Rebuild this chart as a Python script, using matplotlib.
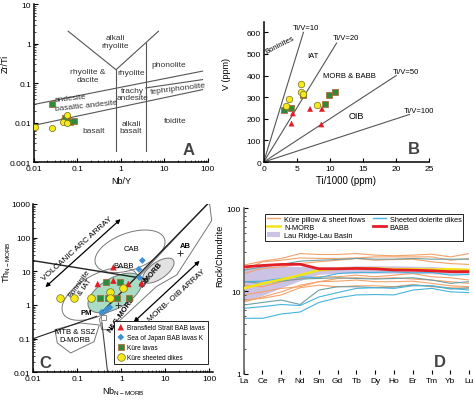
import numpy as np
import matplotlib
matplotlib.use('Agg')
import matplotlib.pyplot as plt
from matplotlib.patches import Polygon, Patch, Rectangle
from matplotlib.lines import Line2D
from matplotlib.ticker import FixedLocator, FixedFormatter, LogLocator, NullFormatter

plt.rcParams['font.family'] = ['Liberation Sans', 'DejaVu Sans']
plt.rcParams['font.size'] = 6

YEL = '#f7e81a'
GRN = '#2f8a3c'
RED = '#e31e26'
BLU = '#3d8fd6'
ORA = '#f4a26a'
CYA = '#45b4de'
GRG = '#6f9fa3'

# ---------------- Panel A data (Nb/Y vs Zr/Ti)
a_dike_x = [0.0105, 0.026, 0.056, 0.047, 0.058]
a_dike_y = [0.0075, 0.0073, 0.0152, 0.0103, 0.0099]
a_lava_x = [0.026, 0.049, 0.058, 0.069, 0.082, 0.052]
a_lava_y = [0.030, 0.0108, 0.0125, 0.0103, 0.0111, 0.0130]

# ---------------- Panel B data (Ti/1000 vs V)
b_dike_x = [3.3, 3.8, 5.6, 5.6, 5.9, 8.0]
b_dike_y = [257, 292, 362, 323, 314, 262]
b_lava_x = [3.1, 4.1, 5.9, 9.3, 9.8, 10.7]
b_lava_y = [242, 249, 308, 269, 312, 323]
b_bab_x = [4.4, 4.2, 7.0, 8.8, 8.7]
b_bab_y = [225, 178, 246, 246, 174]
b_ratios = [10, 20, 50, 100]
b_ratio_xend = [6.0, 11.0, 20.0, 22.0]

# ---------------- Panel C data (Nb N-MORB vs Th N-MORB)
c_bab_x = [0.29, 0.66, 0.66, 1.44, 2.9]
c_bab_y = [4.2, 13.2, 5.3, 4.2, 4.4]
c_jap_x = [3.0, 2.5, 2.6, 0.36, 0.46, 0.55]
c_jap_y = [21.0, 11.5, 6.5, 0.61, 0.72, 0.85]
c_lava_x = [0.45, 0.93, 0.33, 0.51, 0.78, 1.5]
c_lava_y = [4.9, 4.7, 1.6, 1.6, 1.6, 1.6]
c_dike_x = [0.04, 0.083, 0.2, 0.55, 0.55, 1.1]
c_dike_y = [1.6, 1.6, 1.6, 2.4, 1.6, 3.2]
c_ref_x = [21.5, 3.5, 0.85]
c_ref_y = [36.0, 5.3, 1.0]

# ---------------- Panel D data (REE / chondrite)
ree = ['La', 'Ce', 'Pr', 'Nd', 'Sm', 'Gd', 'Tb', 'Dy', 'Ho', 'Er', 'Tm', 'Yb', 'Lu']
kure_flows = [
    [20.6, 23.0, 24.8, 28.4, 27.7, 27.7, 28.4, 27.2, 26.7, 27.2, 27.9, 25.9, 28.4],
    [17.9, 22.6, 23.6, 25.2, 24.8, 24.8, 25.2, 25.9, 25.9, 25.9, 25.9, 23.6, 24.8],
    [16.3, 18.8, 19.6, 21.5, 22.6, 23.6, 24.8, 23.6, 24.1, 24.3, 22.6, 21.5, 21.0],
    [11.8, 11.3, 13.0, 14.2, 14.9, 14.9, 15.6, 14.9, 15.6, 16.3, 14.9, 14.5, 13.6],
    [9.0, 9.8, 10.8, 11.3, 13.0, 13.2, 13.6, 13.0, 13.0, 13.2, 12.4, 11.6, 11.3],
    [7.8, 8.2, 9.0, 11.0, 11.8, 11.3, 11.6, 11.6, 11.3, 12.0, 11.3, 11.0, 10.8],
    [7.4, 8.5, 9.8, 11.8, 13.0, 14.2, 14.5, 14.2, 14.5, 14.0, 13.6, 13.0, 12.4],
]
dolerite = [
    [17.9, 19.6, 21.0, 23.0, 23.6, 24.1, 24.8, 24.3, 24.3, 24.8, 24.3, 24.3, 24.3],
    [13.0, 13.2, 14.2, 14.9, 14.5, 16.3, 16.8, 16.8, 17.1, 16.6, 16.8, 15.6, 15.9],
    [13.0, 12.4, 13.2, 14.0, 14.2, 14.5, 14.2, 14.0, 14.2, 14.5, 13.6, 12.4, 13.0],
    [6.8, 7.3, 7.8, 6.9, 10.3, 11.3, 11.3, 11.0, 11.2, 11.8, 11.6, 10.6, 11.0],
    [6.2, 6.5, 6.9, 6.7, 8.5, 9.6, 10.8, 11.0, 10.8, 11.6, 11.6, 10.8, 10.3],
    [4.7, 4.7, 5.3, 5.6, 7.3, 8.3, 9.0, 9.1, 9.0, 10.3, 10.8, 9.8, 9.6],
]
dolerite_col = [GRG, CYA, GRG, GRG, CYA, CYA]
nmorb = [10.8, 12.3, 13.8, 15.6, 17.9, 18.6, 18.8, 18.8, 18.4, 18.4, 18.2, 18.4, 18.0]
babb = [19.6, 20.4, 21.0, 21.1, 18.6, 18.6, 18.8, 18.6, 18.0, 17.9, 17.6, 17.2, 17.2]
lau_hi = [18.8, 19.8, 20.2, 19.8, 19.6, 19.8, 20.2, 20.2, 20.2, 20.0, 19.8, 19.2, 18.8]
lau_lo = [7.4, 8.9, 11.0, 13.4, 16.0, 16.3, 16.5, 16.5, 16.5, 16.3, 16.2, 16.0, 15.8]

fig = plt.figure(figsize=(4.74, 4.02), dpi=100)
axA = fig.add_axes([0.0717, 0.5945, 0.367, 0.393])
axB = fig.add_axes([0.5563, 0.5945, 0.3494, 0.3495])
axC = fig.add_axes([0.0703, 0.0714, 0.3787, 0.4187])
axD = fig.add_axes([0.5141, 0.0672, 0.4759, 0.4122])


def frame(ax):
    for s in ['top', 'right']:
        ax.spines[s].set_visible(False)
    for s in ['left', 'bottom']:
        ax.spines[s].set_linewidth(1.1)
    ax.tick_params(direction='in', length=3, width=0.8, labelsize=6, pad=2)
    ax.tick_params(which='minor', direction='in', length=1.5, width=0.5)


def logticks(ax, xt, yt):
    ax.set_xscale('log')
    ax.set_yscale('log')
    ax.xaxis.set_major_locator(FixedLocator(xt))
    ax.xaxis.set_major_formatter(FixedFormatter(['%g' % v for v in xt]))
    ax.yaxis.set_major_locator(FixedLocator(yt))
    ax.yaxis.set_major_formatter(FixedFormatter(['%g' % v for v in yt]))
    for a in (ax.xaxis, ax.yaxis):
        a.set_minor_locator(LogLocator(base=10, subs=np.arange(2, 10)))
        a.set_minor_formatter(NullFormatter())


# ================= A
ln = dict(color='#555555', lw=0.8)
axA.plot([0.061, 0.77, 7.3], [2.05, 0.217, 2.05], **ln)
axA.plot([0.77, 0.77], [0.217, 0.0019], **ln)
axA.plot([3.7, 3.7], [1.06, 0.0019], **ln)
axA.plot([0.0105, 75], [0.029, 0.20], **ln)
axA.plot([0.0105, 75], [0.0086, 0.068], **ln)
axA.plot([3.7, 75], [0.075, 0.122], **ln)
axA.scatter(a_lava_x, a_lava_y, marker='s', s=14, c=GRN, edgecolors='#b06030', lw=0.5, zorder=5)
axA.scatter(a_dike_x, a_dike_y, marker='o', s=20, c=YEL, edgecolors='#707020', lw=0.5, zorder=6)
labA = [('alkali\nrhyolite', 0.74, 1.12, 0), ('rhyolite &\ndacite', 0.17, 0.156, 0),
        ('rhyolite', 1.75, 0.18, 0), ('phonolite', 12.3, 0.30, 0),
        ('trachy\nandesite', 1.8, 0.052, 0), ('tephriphonolite', 21, 0.075, 7),
        ('basaltic andesite', 0.16, 0.027, 6), ('basalt', 0.23, 0.0064, 0),
        ('alkali\nbasalt', 1.7, 0.0078, 0), ('foidite', 17.4, 0.0115, 0)]
for t, x, y, r in labA:
    axA.text(x, y, t, ha='center', va='center', fontsize=6, rotation=r, color='#333333',
             linespacing=1.1)
axA.text(0.0285, 0.043, 'andesite', ha='left', va='center', fontsize=6, rotation=6, color='#333333')
axA.text(35, 0.0021, 'A', fontsize=12, fontweight='bold', color='#444444', ha='center', va='center')
logticks(axA, [0.01, 0.1, 1, 10, 100], [0.001, 0.01, 0.1, 1, 10])
axA.set_xlim(0.01, 100)
axA.set_ylim(0.001, 10)
axA.set_xlabel('Nb/Y', fontsize=6.5, labelpad=3)
axA.set_ylabel('Zr/Ti', fontsize=6.5)
axA.yaxis.set_label_coords(-0.14, 0.63)
frame(axA)

# ================= B
for r, xe in zip(b_ratios, b_ratio_xend):
    axB.plot([0, xe], [0, xe * 1000 / r], color='#555555', lw=0.8)
axB.text(6.4, 622, 'Ti/V=10', fontsize=5.5, ha='center', va='center')
axB.text(12.4, 575, 'Ti/V=20', fontsize=5.5, ha='center', va='center')
axB.text(21.4, 420, 'Ti/V=50', fontsize=5.5, ha='center', va='center')
axB.text(23.4, 240, 'Ti/V=100', fontsize=5.5, ha='center', va='center')
axB.text(2.5, 546, 'Boninites', fontsize=5.5, rotation=27, ha='center', va='center')
axB.text(7.4, 495, 'IAT', fontsize=5.5, ha='center', va='center')
axB.text(13.0, 398, 'MORB & BABB', fontsize=5.5, ha='center', va='center')
axB.text(14.0, 214, 'OIB', fontsize=6.5, ha='center', va='center')
axB.text(22.6, 62, 'B', fontsize=12, fontweight='bold', color='#444444', ha='center', va='center')
axB.scatter(b_bab_x, b_bab_y, marker='^', s=18, c=RED, edgecolors='none', zorder=5)
axB.scatter(b_lava_x, b_lava_y, marker='s', s=14, c=GRN, edgecolors='#b06030', lw=0.5, zorder=5)
axB.scatter(b_dike_x, b_dike_y, marker='o', s=22, c=YEL, edgecolors='#707020', lw=0.5, zorder=6)
axB.set_xlim(0, 25)
axB.set_ylim(0, 650)
axB.set_xticks([0, 5, 10, 15, 20, 25])
axB.set_yticks([0, 100, 200, 300, 400, 500, 600])
axB.set_xlabel('Ti/1000 (ppm)', fontsize=7, labelpad=2)
axB.set_ylabel('V (ppm)', fontsize=6.5)
axB.yaxis.set_label_coords(-0.2, 0.63)
frame(axB)

# ================= C
def ell(c, u, v, n=120):
    t = np.linspace(0, 2 * np.pi, n)
    lx = c[0] + u[0] * np.cos(t) + v[0] * np.sin(t)
    ly = c[1] + u[1] * np.cos(t) + v[1] * np.sin(t)
    return np.column_stack([10 ** lx, 10 ** ly])


def lpoly(pts):
    return np.array([[10 ** a, 10 ** b] for a, b in pts])


morb_oib = [(2.0, 3.07), (2.053, 2.505), (1.258, 0.891), (0.803, 0.554), (-0.258, -0.733),
            (-0.447, -0.733), (-0.5, -0.416)]
mtb = [(-1.508, -0.733), (-1.455, -1.129), (-1.152, -1.426), (-0.621, -1.089), (-0.5, -0.594),
       (-0.939, -0.535)]
edge = '#777777'
axC.add_patch(Polygon(lpoly(morb_oib), closed=True, fill=False, ec=edge, lw=0.7))
axC.add_patch(Polygon(ell((0.197, 1.594), (0.783, 0.372), (-0.142, 0.512)), fill=False, ec=edge, lw=0.7))
axC.add_patch(Polygon(ell((-0.485, 0.327), (0.836, 0.581), (-0.213, 0.525)), fill=False, ec=edge, lw=0.7))
axC.add_patch(Polygon(ell((0.841, 1.02), (0.341, 0.312), (-0.108, 0.203)), fc='#e2e2e2', ec=edge, lw=0.7))
axC.add_patch(Polygon(ell((-0.144, 0.356), (0.591, 0.446), (-0.170, 0.386)), fc='#a8dcc4', ec=edge, lw=0.7))
axC.add_patch(Polygon(lpoly(mtb), closed=True, fill=False, ec=edge, lw=0.7))
axC.plot([0.01, 3.8], [20.7, 5.9], color='#222222', lw=1.0)
axC.plot([0.01, 0.275], [0.1, 0.46], color='#222222', lw=0.8)
axC.plot([0.36, 0.49], [0.31, 0.0095], color='#444444', lw=0.8)
axC.plot([0.33, 100], [0.54, 1120], color='#222222', lw=1.0)
axC.add_patch(Rectangle((0.34, 0.36), 0.1, 0.16, fc='white', ec=edge, lw=0.6, zorder=3))
arr = dict(arrowstyle='<|-|>', color='black', lw=0.9, mutation_scale=6)
axC.annotate('', xy=(10 ** 0.03, 10 ** 2.604), xytext=(10 ** -1.773, 10 ** 0.475), arrowprops=arr)
axC.annotate('', xy=(10 ** 1.826, 10 ** 1.366), xytext=(10 ** 0.235, 10 ** -0.564), arrowprops=arr)
axC.text(10 ** -1.0, 10 ** 1.70, 'VOLCANIC ARC ARRAY', rotation=42, fontsize=6, ha='center', va='center')
axC.text(10 ** 1.25, 10 ** 0.30, 'MORB- OIB ARRAY', rotation=42, fontsize=6, ha='center', va='center')
axC.text(10 ** 0.235, 10 ** 1.683, 'CAB', fontsize=5.5, ha='center', va='center')
axC.text(10 ** 0.045, 10 ** 1.17, 'BABB', fontsize=5.5, ha='center', va='center', zorder=7)
axC.text(10 ** 1.447, 10 ** 1.762, 'AB', fontsize=5.5, fontweight='bold', ha='center', va='center')
axC.text(10 ** -0.88, 10 ** 0.60, 'Bonninite\n& IAT', fontsize=5.5, rotation=55, ha='center', va='center',
         linespacing=1.0)
axC.text(10 ** 0.689, 10 ** 0.921, 'E-MORB', fontsize=5.5, fontweight='bold', rotation=50, ha='center',
         va='center')
axC.text(10 ** 0.008, 10 ** -0.267, 'N&G-MORB', fontsize=5.5, fontweight='bold', rotation=55, ha='center',
         va='center')
axC.text(10 ** -0.803, 10 ** -0.238, 'PM', fontsize=5.5, fontweight='bold', ha='center', va='center')
axC.text(10 ** -1.05, 10 ** -0.91, 'MTB & SSZ\nD-MORB', fontsize=5.5, ha='center', va='center', linespacing=1.1)
axC.text(10 ** -1.735, 10 ** -1.70, 'C', fontsize=12, fontweight='bold', color='#444444', ha='center',
         va='center')
axC.scatter(c_ref_x, c_ref_y, marker='+', s=18, c='#333333', lw=0.7, zorder=4)
hB = axC.scatter(c_bab_x, c_bab_y, marker='^', s=22, c=RED, edgecolors='none', zorder=6)
hJ = axC.scatter(c_jap_x, c_jap_y, marker='D', s=12, c=BLU, edgecolors='none', zorder=6)
hL = axC.scatter(c_lava_x, c_lava_y, marker='s', s=22, c=GRN, edgecolors='#b06030', lw=0.5, zorder=5)
hD = axC.scatter(c_dike_x, c_dike_y, marker='o', s=30, c=YEL, edgecolors='#707020', lw=0.5, zorder=7)
logticks(axC, [0.01, 0.1, 1, 10, 100], [0.01, 0.1, 1, 10, 100, 1000])
axC.set_xlim(0.01, 120)
axC.set_ylim(0.01, 1000)
axC.set_xlabel(r'Nb$_{\mathregular{N-MORB}}$', fontsize=6.5, labelpad=2)
axC.set_ylabel(r'Th$_{\mathregular{N-MORB}}$', fontsize=6.5)
axC.yaxis.set_label_coords(-0.115, 0.66)
frame(axC)
legC = axC.legend([hB, hJ, hL, hD],
                  ['Bransfield Strait BAB lavas', 'Sea of Japan BAB lavas K', u'K\u00fcre lavas',
                   u'K\u00fcre sheeted dikes'],
                  loc='lower right', bbox_to_anchor=(0.99, 0.03), fontsize=4.7, frameon=True,
                  fancybox=False, framealpha=1, edgecolor='black', handletextpad=0.4,
                  borderpad=0.5, labelspacing=0.45, handlelength=1.0)
legC.get_frame().set_linewidth(0.6)
legC.set_zorder(10)

# ================= D
x = np.arange(len(ree))
axD.fill_between(x, lau_lo, lau_hi, color='#cbc2e4', lw=0, zorder=1)
for row in kure_flows:
    axD.plot(x, row, color=ORA, lw=0.8, zorder=2)
for row, col in zip(dolerite, dolerite_col):
    axD.plot(x, row, color=col, lw=0.8, zorder=2)
axD.plot(x, nmorb, color='#f2e41a', lw=1.8, zorder=3)
axD.plot(x, babb, color=RED, lw=2.0, zorder=4)
axD.set_yscale('log')
axD.set_ylim(1, 100)
axD.set_xlim(0, 12)
axD.set_xticks(x)
axD.set_xticklabels(ree)
axD.yaxis.set_major_locator(FixedLocator([1, 10, 100]))
axD.yaxis.set_major_formatter(FixedFormatter(['1', '10', '100']))
axD.yaxis.set_minor_formatter(NullFormatter())
axD.set_ylabel('Rock/Chondrite', fontsize=6.5)
axD.yaxis.set_label_coords(-0.085, 0.72)
axD.text(10.45, 1.4, 'D', fontsize=12, fontweight='bold', color='#444444', ha='center', va='center')
frame(axD)
axD.spines['left'].set_color('#555555')
axD.spines['bottom'].set_visible(False)
hD1 = [Line2D([], [], color=ORA, lw=1), Line2D([], [], color='#f2e41a', lw=1.8),
       Patch(fc='#cbc2e4', ec='none'), Line2D([], [], color=CYA, lw=1), Line2D([], [], color=RED, lw=2)]
lD = [u'K\u00fcre pillow & sheet flows', 'N-MORB', 'Lau Ridge-Lau Basin', 'Sheeted dolerite dikes', 'BABB']
legD = axD.legend(hD1, lD, ncol=2, loc='upper right', bbox_to_anchor=(0.99, 0.99), fontsize=5.3,
                  fancybox=False, framealpha=1, edgecolor='black', handlelength=1.8, handletextpad=0.5,
                  columnspacing=1.0, borderpad=0.25, labelspacing=0.15)
legD.get_frame().set_linewidth(0.6)

fig.savefig('out.png', dpi=100)
